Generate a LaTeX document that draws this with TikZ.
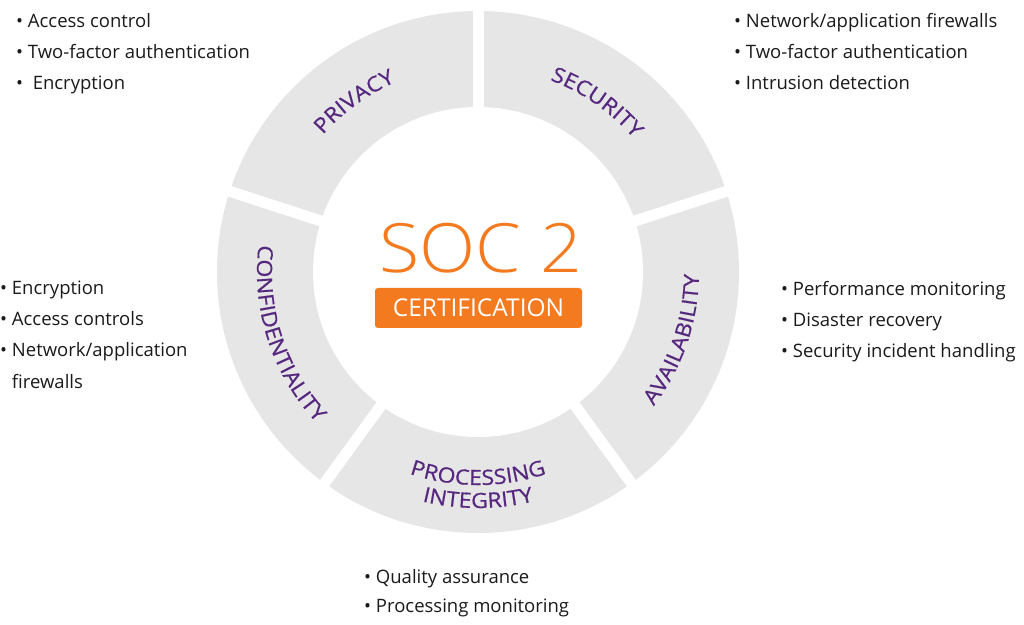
\documentclass[tikz,border=0pt]{standalone}
\usepackage{fontspec}
\setmainfont{Open Sans}
\newfontfamily\soclight{Open Sans}[UprightFont=* Light,FakeStretch=1.08]
\newfontfamily\ringfont{Open Sans}[FakeStretch=1.1,FakeBold=0.6]
\usetikzlibrary{decorations.text}
\definecolor{ringgray}{HTML}{E6E6E6}
\definecolor{socpurple}{HTML}{56277F}
\definecolor{socorange}{HTML}{F47A20}
\definecolor{listblack}{HTML}{1A1A1A}
\begin{document}
\begin{tikzpicture}[x=1pt,y=1pt,
  item/.style={anchor=base west,inner sep=0pt,text=listblack,font=\fontsize{18.5}{22}\selectfont},
  gap/.style={white,line width=11pt},
  ringlabel/.style={decorate,decoration={text along path,text align=center,
    text={|\ringfont\fontsize{21}{24}\selectfont\color{socpurple}|#1}}}]
\useasboundingbox (0,0) rectangle (1024,624);
% ring of five criteria
\coordinate (c) at (478,352);
\fill[ringgray] (c) circle (261);
\fill[white] (c) circle (165);
\foreach \a in {90,18,-54,-126,162}
  \draw[gap] (c) -- ++(\a:275);
\begin{scope}[shift={(478,352)}]
\path[ringlabel=PRIVACY] (171:207) arc[start angle=171, end angle=81, radius=207];
\path[ringlabel=SECURITY] (100:205) arc[start angle=100, end angle=10, radius=205];
\path[ringlabel=AVAILABILITY] (-69:221) arc[start angle=-69, end angle=31, radius=221];
\path[ringlabel=PROCESSING] (-135:213) arc[start angle=-135, end angle=-45, radius=213];
\path[ringlabel=INTEGRITY] (-135:236) arc[start angle=-135, end angle=-45, radius=236];
\path[ringlabel=CONFIDENTIALITY] (148:221) arc[start angle=148, end angle=248, radius=221];
\end{scope}
% centre
\node [anchor=base,inner sep=0pt,text=socorange,font=\soclight\fontsize{68}{70}\selectfont] (soc) at (481,351) {SOC 2};
\node [fill=socorange,rounded corners=3pt,minimum width=207pt,minimum height=40pt,inner sep=0pt,
  text=white,font=\fontsize{24.5}{26}\selectfont] (cert) at (478.5,316) {CERTIFICATION};
% privacy
\node [item] (priv1) at (16,596) {• Access control};
\node [item] (priv2) at (16,565) {• Two-factor authentication};
\node [item] (priv3) at (16,534) {•\ \ Encryption};
% security
\node [item] (sec1) at (734,596) {• Network/application firewalls};
\node [item] (sec2) at (734,565) {• Two-factor authentication};
\node [item] (sec3) at (734,534) {• Intrusion detection};
% confidentiality
\node [item] (conf1) at (0,329) {• Encryption};
\node [item] (conf2) at (0,298) {• Access controls};
\node [item] (conf3) at (0,267) {• Network/application};
\node [item] (conf4) at (0,236) {\phantom{•} firewalls};
% availability
\node [item] (avail1) at (781,328) {• Performance monitoring};
\node [item] (avail2) at (781,297) {• Disaster recovery};
\node [item] (avail3) at (781,266) {• Security incident handling};
% processing integrity
\node [item] (proc1) at (364,41) {• Quality assurance};
\node [item] (proc2) at (364,12) {• Processing monitoring};
\end{tikzpicture}
\end{document}
